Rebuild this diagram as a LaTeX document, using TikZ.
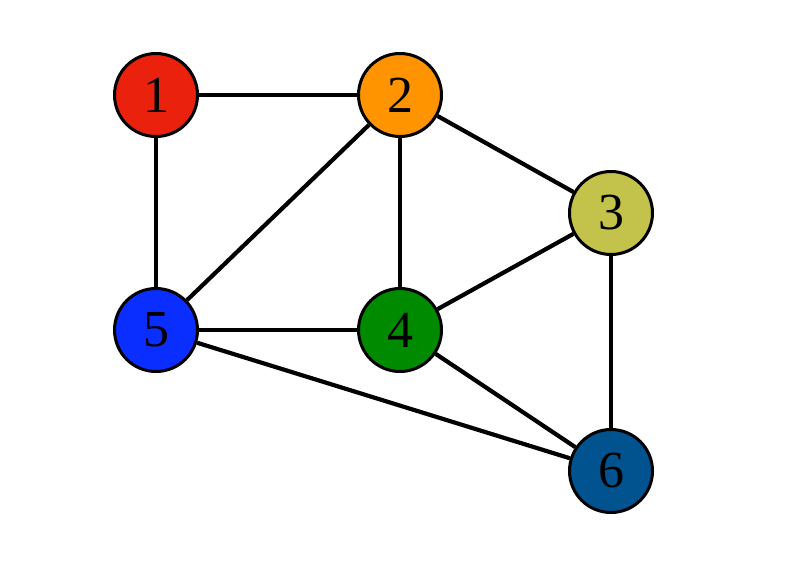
\documentclass[tikz,border=0pt]{standalone}
\usepackage{fontspec}
\setmainfont{Liberation Serif}

\definecolor{vred}{HTML}{EA210C}
\definecolor{vorange}{HTML}{FF9400}
\definecolor{volive}{HTML}{C3C24A}
\definecolor{vgreen}{HTML}{008A00}
\definecolor{vblue}{HTML}{0A2EFF}
\definecolor{vnavy}{HTML}{00538F}

\tikzset{
    vertex/.style={circle, draw=black, line width=3pt, minimum size=83pt, inner sep=0pt, font=\fontsize{52}{52}\selectfont},
    edge/.style={draw=black, line width=4.2pt}
}

\begin{document}
\begin{tikzpicture}[x=1pt, y=-1pt]
\useasboundingbox (0,0) rectangle (800,576);

\node[vertex, fill=vred]    (v1) at (156,95)  {\raisebox{-3pt}{1}};
\node[vertex, fill=vorange] (v2) at (400,95)  {\raisebox{-3pt}{2}};
\node[vertex, fill=volive]  (v3) at (611,213) {\raisebox{-3pt}{3}};
\node[vertex, fill=vgreen]  (v4) at (400,330) {\raisebox{-3pt}{4}};
\node[vertex, fill=vblue]   (v5) at (156,330) {\raisebox{-3pt}{5}};
\node[vertex, fill=vnavy]   (v6) at (611,471) {\raisebox{-3pt}{6}};

\foreach \a/\b in {v1/v2, v1/v5, v2/v3, v2/v4, v2/v5, v3/v4, v3/v6, v4/v5, v4/v6, v5/v6} {
    \draw[edge] (\a) -- (\b);
}
\end{tikzpicture}
\end{document}
